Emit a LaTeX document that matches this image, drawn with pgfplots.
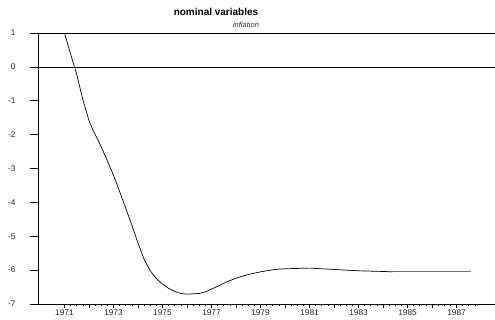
\documentclass[border=0pt]{standalone}
\usepackage{fontspec}
\setmainfont{Liberation Sans}
\usepackage{pgfplots}
\pgfplotsset{compat=1.18}
\begin{document}
\begin{tikzpicture}
\pgfplotsset{common/.style={
  at={(0pt,0pt)}, anchor=south west,
  scale only axis, width=457pt, height=271pt,
  xmin=1969.92, xmax=1988.57, ymin=-7, ymax=1,
  axis line style={line width=0.7pt, -},
  tick align=outside,
  /pgf/number format/assume math mode=true,
  tick label style={font=\fontsize{8.3}{9}\selectfont, text=black!85},
  clip=false,
}}
\begin{axis}[common,
  axis x line*=bottom, axis y line*=left,
  ytick=\empty,
  xtick={1971,1973,...,1987},
  xticklabel style={/pgf/number format/1000 sep={}, yshift=1.5pt},
  extra x ticks={1972,1974,...,1986},
  extra x tick labels={},
  minor xtick={1971.25,1971.5,...,1987.75},
  major tick length=4pt, minor tick length=2.5pt,
  tick style={line width=0.6pt, black},
]
\addplot[black, line width=0.7pt] coordinates {(1969.92,1) (1988.57,1)};
\addplot[black, line width=0.7pt] coordinates {(1969.92,0) (1988.57,0)};
\addplot[black, line width=0.7pt] table {
1971.0 1.0
1971.25 0.38
1971.5 -0.22
1971.75 -0.97
1972.0 -1.58
1972.16 -1.86
1972.25 -1.99
1972.5 -2.36
1972.75 -2.77
1973.0 -3.2
1973.25 -3.68
1973.5 -4.17
1973.75 -4.67
1974.0 -5.2
1974.25 -5.68
1974.5 -6.02
1974.75 -6.25
1975.0 -6.41
1975.25 -6.54
1975.5 -6.63
1975.75 -6.69
1976.0 -6.71
1976.25 -6.70
1976.5 -6.69
1976.75 -6.64
1977.0 -6.56
1977.25 -6.48
1977.5 -6.39
1977.75 -6.31
1978.0 -6.24
1978.25 -6.18
1978.5 -6.13
1978.75 -6.09
1979.0 -6.05
1979.25 -6.02
1979.5 -5.99
1979.75 -5.97
1980.0 -5.96
1980.5 -5.95
1981.0 -5.94
1981.5 -5.96
1982.0 -5.98
1982.5 -6.00
1983.0 -6.02
1983.5 -6.03
1984.0 -6.04
1984.4 -6.05
};
\addplot[black!55, line width=0.9pt] table {
1984.4 -6.05
1985.0 -6.05
1986.0 -6.05
1987.0 -6.05
1987.6 -6.05
};
\end{axis}
\begin{axis}[common,
  axis x line=none, axis y line*=left,
  xtick=\empty,
  ytick={-7,-6,...,1},
  major tick length=8pt,
  tick style={line width=0.7pt, black},
  yticklabel style={xshift=-11pt},
]
\end{axis}
\node[font=\bfseries\fontsize{10}{12}\selectfont] at (178pt,292pt) {nominal variables};
\node[font=\itshape\fontsize{7.5}{8}\selectfont, text=black!80] at (208pt,279pt) {inflation};
\pgfresetboundingbox
\path (-38pt,-16pt) rectangle (457pt,304pt);
\end{tikzpicture}
\end{document}
